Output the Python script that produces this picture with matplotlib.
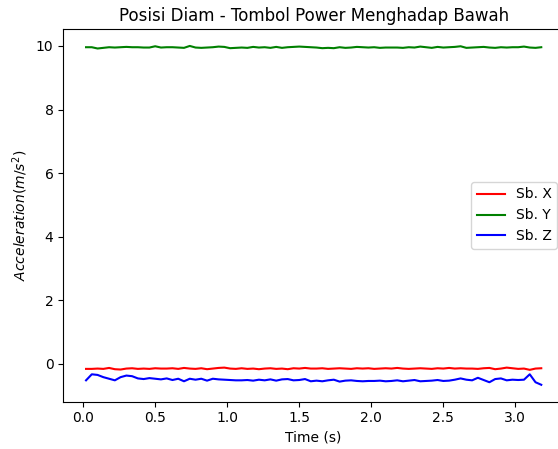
import matplotlib
matplotlib.use('Agg')
import matplotlib.pyplot as plt
import numpy as np

# waktu sampel (s), tiap 0.04 s
waktu = [round(0.02 + 0.04 * i, 2) for i in range(80)]

sb_x = [-0.16, -0.16, -0.15, -0.16, -0.13, -0.17, -0.18, -0.15, -0.14, -0.16,
        -0.15, -0.16, -0.14, -0.15, -0.15, -0.14, -0.16, -0.13, -0.15, -0.16,
        -0.14, -0.17, -0.15, -0.13, -0.12, -0.15, -0.16, -0.14, -0.16, -0.15,
        -0.17, -0.15, -0.14, -0.16, -0.15, -0.17, -0.14, -0.15, -0.13, -0.15,
        -0.15, -0.14, -0.16, -0.15, -0.14, -0.15, -0.16, -0.14, -0.15, -0.14,
        -0.16, -0.15, -0.14, -0.15, -0.13, -0.15, -0.16, -0.15, -0.14, -0.15,
        -0.16, -0.14, -0.15, -0.13, -0.15, -0.14, -0.15, -0.15, -0.16, -0.14,
        -0.13, -0.17, -0.15, -0.12, -0.14, -0.16, -0.15, -0.19, -0.15, -0.14]

sb_y = [9.96, 9.96, 9.92, 9.94, 9.96, 9.95, 9.96, 9.97, 9.96, 9.96,
        9.95, 9.95, 9.99, 9.95, 9.96, 9.96, 9.95, 9.94, 10.00, 9.95,
        9.94, 9.95, 9.96, 9.98, 9.97, 9.93, 9.94, 9.95, 9.94, 9.97,
        9.95, 9.96, 9.94, 9.97, 9.94, 9.96, 9.97, 9.98, 9.97, 9.96,
        9.95, 9.93, 9.94, 9.93, 9.96, 9.94, 9.95, 9.97, 9.96, 9.95,
        9.96, 9.94, 9.95, 9.95, 9.95, 9.94, 9.96, 9.95, 9.98, 9.96,
        9.94, 9.97, 9.95, 9.96, 9.97, 9.99, 9.94, 9.95, 9.96, 9.97,
        9.95, 9.94, 9.96, 9.95, 9.96, 9.96, 9.98, 9.95, 9.94, 9.96]

sb_z = [-0.52, -0.33, -0.35, -0.42, -0.47, -0.52, -0.42, -0.37, -0.39, -0.46,
        -0.48, -0.45, -0.47, -0.49, -0.46, -0.51, -0.47, -0.55, -0.47, -0.50,
        -0.47, -0.53, -0.47, -0.49, -0.50, -0.51, -0.52, -0.52, -0.51, -0.53,
        -0.50, -0.52, -0.49, -0.53, -0.49, -0.48, -0.52, -0.51, -0.48, -0.55,
        -0.53, -0.55, -0.52, -0.50, -0.56, -0.53, -0.52, -0.54, -0.55, -0.54,
        -0.54, -0.53, -0.55, -0.54, -0.52, -0.55, -0.53, -0.51, -0.55, -0.54,
        -0.53, -0.51, -0.54, -0.53, -0.50, -0.46, -0.50, -0.52, -0.44, -0.51,
        -0.58, -0.48, -0.46, -0.52, -0.50, -0.51, -0.50, -0.33, -0.58, -0.66]

fig = plt.figure(figsize=(5.58, 4.49), dpi=100)
# sumbu agak keluar dari kanan gambar, seperti aslinya
ax = fig.add_axes([0.1134, 0.1053, 0.8974, 0.8301])
ax.plot(waktu, sb_x, color='red', label='Sb. X')
ax.plot(waktu, sb_y, color='green', label='Sb. Y')
ax.plot(waktu, sb_z, color='blue', label='Sb. Z')
ax.set_title('Posisi Diam - Tombol Power Menghadap Bawah')
ax.set_xlabel('Time (s)')
ax.set_ylabel(r'$Acceleration(m/s^2)$')
ax.set_yticks([0, 2, 4, 6, 8, 10])
ax.legend(loc='center right')
plt.savefig('out.png')
